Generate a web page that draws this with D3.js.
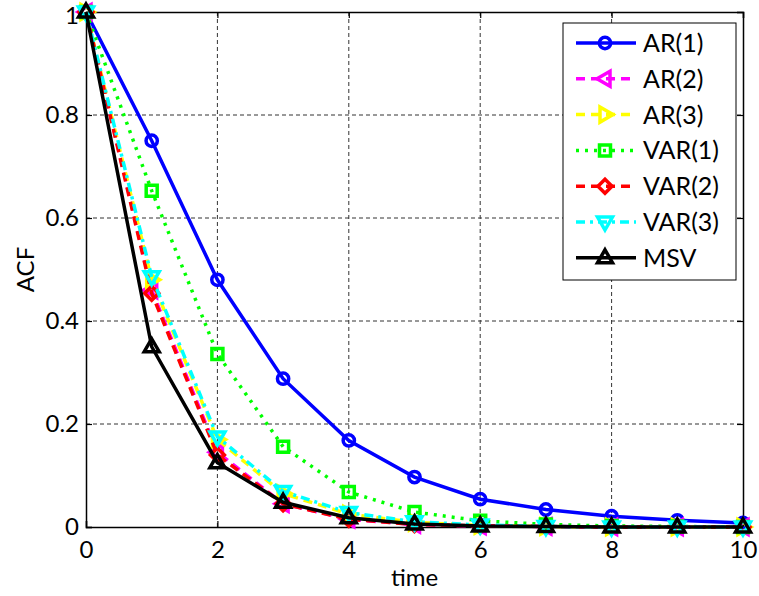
<!DOCTYPE html>
<html>
<head>
<meta charset="utf-8">
<script src="https://cdn.jsdelivr.net/npm/d3@7"></script>
<style>
  body { margin: 0; background: #fff; }
  text { font-family: Lato, "Open Sans", sans-serif; fill: #000; }
</style>
</head>
<body>
<svg id="chart" width="759" height="596"></svg>
<script>
// values
const lags = [0, 1, 2, 3, 4, 5, 6, 7, 8, 9, 10]
const ar1  = [1, 0.750, 0.480, 0.288, 0.168, 0.097, 0.054, 0.034, 0.021, 0.013, 0.008]
const ar2  = [1, 0.460, 0.145, 0.045, 0.015, 0.005, 0.002, 0.001, 0, 0, 0]
const ar3  = [1, 0.480, 0.170, 0.065, 0.025, 0.009, 0.003, 0.001, 0, 0, 0]
const var1 = [1, 0.653, 0.336, 0.156, 0.068, 0.029, 0.012, 0.005, 0.002, 0.001, 0]
const var2 = [1, 0.454, 0.140, 0.045, 0.015, 0.005, 0.002, 0.001, 0, 0, 0]
const var3 = [1, 0.486, 0.175, 0.069, 0.028, 0.010, 0.004, 0.001, 0, 0, 0]
const msv  = [1, 0.350, 0.125, 0.048, 0.018, 0.006, 0.002, 0.001, 0, 0, 0]

const seriesNames = ["AR(1)", "AR(2)", "AR(3)", "VAR(1)", "VAR(2)", "VAR(3)", "MSV"]
const xTicks = [0, 2, 4, 6, 8, 10]
const yTicks = [0, 0.2, 0.4, 0.6, 0.8, 1]
const yTickLabels = ["0", "0.2", "0.4", "0.6", "0.8", "1"]

const styles = [
  {color: "#0000ff", dash: null, marker: "circle"},
  {color: "#ff00ff", dash: "9,6", marker: "left"},
  {color: "#ffff00", dash: "9,6", marker: "right"},
  {color: "#00ff00", dash: "3,6", marker: "square"},
  {color: "#ff0000", dash: "9,6", marker: "diamond"},
  {color: "#00ffff", dash: "9,5,3,5", marker: "down"},
  {color: "#000000", dash: null, marker: "up"}
]
const allValues = [ar1, ar2, ar3, var1, var2, var3, msv]

const margin = {top: 12, right: 16, bottom: 69, left: 86}
const W = 759, H = 596
const svg = d3.select("#chart")

const x = d3.scaleLinear().domain([0, 10]).range([margin.left, W - margin.right])
const y = d3.scaleLinear().domain([0, 1]).range([H - margin.bottom, margin.top])

// grid
const grid = svg.append("g")
grid.selectAll(".gx").data(xTicks.slice(1, -1)).enter().append("line")
  .attr("x1", d => x(d)).attr("x2", d => x(d))
  .attr("y1", y(0)).attr("y2", y(1))
  .attr("stroke", "#333").attr("stroke-width", 1).attr("stroke-dasharray", "4,3")
grid.selectAll(".gy").data(yTicks.slice(1, -1)).enter().append("line")
  .attr("x1", x(0)).attr("x2", x(10))
  .attr("y1", d => y(d)).attr("y2", d => y(d))
  .attr("stroke", "#333").attr("stroke-width", 1).attr("stroke-dasharray", "4,3")

// axes
svg.append("g").attr("transform", `translate(0,${y(0)})`)
  .call(d3.axisBottom(x).tickValues(xTicks).tickSize(-6).tickPadding(14))
svg.append("g").attr("transform", `translate(0,${y(1)})`)
  .call(d3.axisTop(x).tickValues(xTicks).tickSize(-6).tickFormat(""))
svg.append("g").attr("transform", `translate(${x(0)},0)`)
  .call(d3.axisLeft(y).tickValues(yTicks).tickSize(-6).tickPadding(7)
    .tickFormat((d, i) => yTickLabels[i]))
svg.append("g").attr("transform", `translate(${x(10)},0)`)
  .call(d3.axisRight(y).tickValues(yTicks).tickSize(-6).tickFormat(""))

svg.selectAll(".domain").attr("stroke", "#000").attr("stroke-width", 1.5)
svg.selectAll(".tick line").attr("stroke", "#000").attr("stroke-width", 1.2)
svg.selectAll(".tick text").style("font-size", "24px").attr("fill", "#000")
// keep the top "1" inside the picture
svg.selectAll(".tick text").filter(d => d === 1).attr("dy", "0.38em").attr("y", 2)

svg.append("text").attr("x", x(5)).attr("y", 586)
  .attr("text-anchor", "middle").style("font-size", "24px").text("time")
svg.append("text").attr("transform", `translate(34,${y(0.5)}) rotate(-90)`)
  .attr("text-anchor", "middle").style("font-size", "24px").text("ACF")

// markers
function markerPath(type) {
  switch (type) {
    case "circle": return d3.symbol(d3.symbolCircle, 100)()
    case "square": return "M-5.5,-5.5H5.5V5.5H-5.5Z"
    case "diamond": return "M0,-7L7,0L0,7L-7,0Z"
    case "up": return "M0,-8L7.5,5H-7.5Z"
    case "down": return "M0,8L7.5,-5H-7.5Z"
    case "left": return "M-8,0L5,-7.5V7.5Z"
    case "right": return "M8,0L-5,-7.5V7.5Z"
  }
}

const line = d3.line().x((d, i) => x(lags[i])).y(d => y(d))

const plot = svg.append("g")
allValues.forEach((vals, k) => {
  const st = styles[k]
  const g = plot.append("g")
  g.append("path").datum(vals)
    .attr("d", line)
    .attr("fill", "none")
    .attr("stroke", st.color)
    .attr("stroke-width", 3.5)
    .attr("stroke-dasharray", st.dash)
  g.selectAll("path.m").data(vals).enter().append("path")
    .attr("class", "m")
    .attr("d", markerPath(st.marker))
    .attr("transform", (d, i) => `translate(${x(lags[i])},${y(d)})`)
    .attr("fill", "none")
    .attr("stroke", st.color)
    .attr("stroke-width", 3.5)
})

// legend
const legend = svg.append("g").attr("transform", "translate(563,23)")
legend.append("rect").attr("width", 173).attr("height", 257)
  .attr("fill", "#fff").attr("stroke", "#000").attr("stroke-width", 1)
seriesNames.forEach((name, k) => {
  const st = styles[k]
  const ly = 20 + k * 35.8
  legend.append("line").attr("x1", 13).attr("x2", 73).attr("y1", ly).attr("y2", ly)
    .attr("stroke", st.color).attr("stroke-width", 3.5).attr("stroke-dasharray", st.dash)
  legend.append("path").attr("d", markerPath(st.marker))
    .attr("transform", `translate(42,${ly})`)
    .attr("fill", "none").attr("stroke", st.color).attr("stroke-width", 3.5)
  legend.append("text").attr("x", 80).attr("y", ly + 9)
    .style("font-size", "25px").text(name)
})
</script>
</body>
</html>
